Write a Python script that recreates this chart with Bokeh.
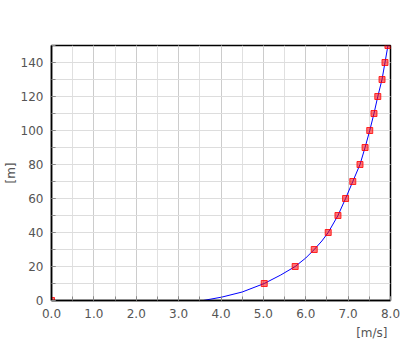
from bokeh.plotting import figure
from bokeh.models import FixedTicker, Range1d, Title, CustomJSTickFormatter
from bokeh.embed import file_html
from bokeh.resources import INLINE

# measured points (height [m] vs wind speed [m/s])
height_pts = [0, 10, 20, 30, 40, 50, 60, 70, 80, 90, 100, 110, 120, 130, 140, 150]
speed_pts = [0.0, 5.02, 5.75, 6.2, 6.53, 6.76, 6.94, 7.11, 7.28, 7.40, 7.51, 7.61, 7.70, 7.80, 7.87, 7.94]

# fitted profile line
height_line = [0, 2, 5, 10, 15, 20, 25, 30, 35, 40, 50, 60, 70, 80, 90, 100, 110, 120, 130, 140, 150]
speed_line = [3.58, 4.02, 4.5, 5.02, 5.41, 5.75, 6.0, 6.2, 6.38, 6.53, 6.76, 6.94, 7.11, 7.28, 7.40, 7.51, 7.61, 7.70, 7.80, 7.87, 7.94]

x_ticks = [0, 1, 2, 3, 4, 5, 6, 7, 8]
x_minor = [0.5 * i for i in range(17)]
y_ticks = [0, 20, 40, 60, 80, 100, 120, 140]
y_minor = [10 * i for i in range(16)]

p = figure(width=400, height=350, output_backend="svg", toolbar_location=None,
           x_range=Range1d(0, 8), y_range=Range1d(0, 150),
           min_border_left=50, min_border_right=10, min_border_top=45, min_border_bottom=50)
p.background_fill_color = "white"
p.border_fill_color = "white"
p.outline_line_color = "black"
p.outline_line_width = 1.5

p.xaxis.ticker = FixedTicker(ticks=x_ticks, minor_ticks=x_minor)
p.yaxis.ticker = FixedTicker(ticks=y_ticks, minor_ticks=y_minor)
p.xaxis.formatter = CustomJSTickFormatter(code="return tick.toFixed(1);")

for ax in (p.xaxis[0], p.yaxis[0]):
    ax.axis_line_color = "black"
    ax.axis_line_width = 1.5
    ax.major_tick_in = 4
    ax.major_tick_out = 0
    ax.minor_tick_in = 4
    ax.minor_tick_out = 0
    ax.major_tick_line_color = "#888888"
    ax.minor_tick_line_color = "#888888"
    ax.major_label_text_font = "DejaVu Sans"
    ax.major_label_text_font_size = "12px"
    ax.major_label_text_color = "#555555"
    ax.major_label_standoff = 8

p.yaxis.axis_label = "[m]"
p.yaxis.axis_label_standoff = 0
p.yaxis.axis_label_text_font = "DejaVu Sans"
p.yaxis.axis_label_text_font_size = "12px"
p.yaxis.axis_label_text_font_style = "normal"
p.yaxis.axis_label_text_color = "#555555"

p.add_layout(Title(text="[m/s]", align="right", text_font="DejaVu Sans",
                   text_font_size="12px", text_font_style="normal",
                   text_color="#555555", standoff=7, offset=3), "below")

p.xgrid.grid_line_color = "#cccccc"
p.xgrid.minor_grid_line_color = "#e0e0e0"
p.ygrid.grid_line_color = "#dddddd"
p.ygrid.minor_grid_line_color = "#dddddd"

p.line(speed_line, height_line, line_color="blue", line_width=1)
p.scatter(speed_pts, height_pts, marker="square", size=6,
          fill_color="red", fill_alpha=0.55, line_color="red", line_alpha=0.8)

open("out.html", "w").write(file_html(p, INLINE))
